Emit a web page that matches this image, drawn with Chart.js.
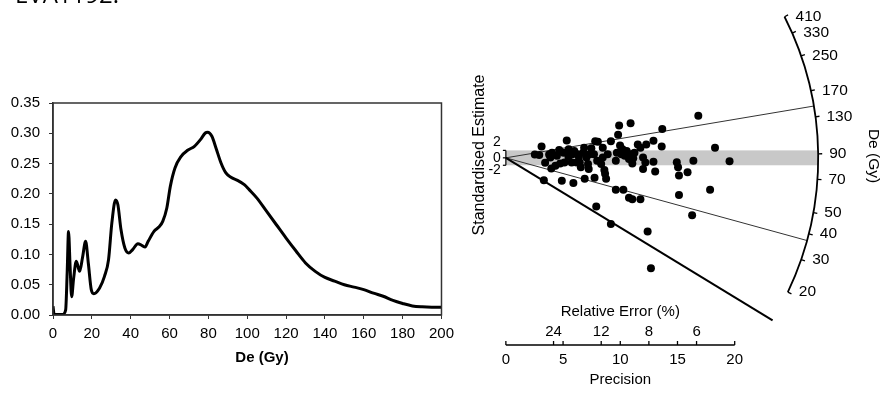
<!DOCTYPE html>
<html><head><meta charset="utf-8">
<script src="https://cdn.jsdelivr.net/npm/chart.js@4.4.1/dist/chart.umd.min.js"></script>
<style>
html,body{margin:0;padding:0;background:#fff;overflow:hidden;}
#wrap{position:relative;width:886px;height:396px;background:#fff;}
#c1{position:absolute;left:0;top:0;}
#c2{position:absolute;left:440px;top:0;}
</style></head><body>
<div id="wrap">
<canvas id="c1" width="460" height="396"></canvas>
<canvas id="c2" width="446" height="396"></canvas>
</div>
<script>
// ---------- data: kernel density (left) ----------
const sampleName = "EVA1192.";
const kdeTitle = "De (Gy)";
const deGy = [0,0.6,5,6.5,7.3,8,8.8,9.6,10.6,12,13.7,15.2,16.8,18.2,19.7,21,24,26.5,28.6,30.3,32.2,33.4,35,37,39,41,43.7,45.9,47.4,49,52,54.5,56.5,58.6,60.4,62.8,66,69.3,72.8,75.9,78.4,79.6,81.8,83.9,86.5,89,91.6,95,98.5,101,105,110,115,120,125,130,135,140,145,150,155,160,165,170,175,180,185,190,195,200];
const density = [0.0143,0.001,0.001,0.008,0.07,0.138,0.08,0.030,0.06,0.0886,0.0721,0.095,0.1216,0.085,0.0418,0.0352,0.0446,0.0638,0.0914,0.152,0.190,0.182,0.141,0.1106,0.1024,0.108,0.1178,0.1145,0.1123,0.1216,0.138,0.1453,0.1547,0.1767,0.2124,0.2427,0.262,0.2719,0.2785,0.2895,0.3005,0.3016,0.295,0.2757,0.251,0.2345,0.2273,0.2223,0.2152,0.207,0.193,0.171,0.149,0.127,0.106,0.086,0.072,0.062,0.056,0.050,0.046,0.042,0.036,0.031,0.024,0.019,0.015,0.0135,0.013,0.013];

// ---------- data: radial plot (right) ----------
const precision = [2.53,2.92,3.12,3.43,3.78,3.97,4.03,4.33,4.46,4.66,5.04,5.12,5.32,5.47,5.49,5.81,5.98,6.18,6.38,6.55,6.76,6.84,7.04,7.18,7.47,7.70,7.81,8.04,7.98,8.33,8.47,8.47,8.61,8.67,9.18,9.90,9.81,9.98,9.70,10.10,10.39,10.56,10.90,10.90,11.13,11.05,11.53,11.76,11.99,12.19,12.27,12.90,12.90,13.62,13.67,11.99,13.05,14.94,15.05,15.13,15.88,16.39,16.82,18.28,19.55,3.32,4.89,5.90,6.89,7.75,8.76,9.61,10.27,10.76,11.05,11.76,15.13,17.85,7.90,16.28,9.18,12.39,12.68,4.75,5.75,6.46,7.32,6.27,3.89,8.90,9.61,10.76,10.19,11.24,7.24];
const stdEstimate = [0.92,0.79,3.03,-1.32,0.92,-2.89,1.39,-2.11,0.53,2.11,1.39,-1.24,4.66,0.26,2.29,0.97,1.84,-1.24,0.26,-2.55,1.39,2.71,0.08,-1.66,2.55,0.97,4.47,4.29,-0.79,-1.66,2.71,0.08,-3.24,-4.29,4.47,8.68,6.18,3.29,1.39,0.97,0.53,1.84,9.29,0.97,-0.08,-1.50,3.61,2.71,0.08,-1.24,3.61,4.61,-1.05,3.03,7.76,-2.97,-3.68,-1.18,-2.55,-4.74,-3.87,-0.79,11.32,2.71,-0.92,-6.05,-6.18,-6.76,-5.61,-5.34,-5.61,-8.55,-8.55,-10.71,-11.13,-11.13,-10.0,-8.55,-13.08,-15.45,-17.76,-19.82,-29.66,-1.50,-1.24,-1.24,0.97,0.97,0.08,0.97,-0.79,-0.34,2.29,1.39,-2.97];
const centralDe = 86.5;             // Gy, centre of grey ±2 band
const componentDe = [145, 37.2, 13.3]; // Gy, radial lines
const arcTicks = [20,30,40,50,70,90,130,170,250,330,410];
const precisionTicks = [0,5,10,15,20];
const relErrTicks = [24,12,8,6];
const stdTicks = [2,0,-2];
const stdTickText = ["2","0","-2"];

// ---------- styles / layout ----------
const componentLineWidth = [1, 1, 2];
const FONT = '"Liberation Sans", Arial, sans-serif';
Chart.defaults.font.family = FONT;
Chart.defaults.color = '#000';

const PX_PER_PREC = 11.65, PX_PER_STD = 3.8;
const ORIGIN_X = 63, ORIGIN_Y = 157; // within right canvas
const ARC_RADIUS = 27.3;            // in precision units
const PREC_AXIS_Y = 345;

// ---------- left chart ----------
const leftDecor = {
  id:'leftDecor',
  afterDraw(chart){
    const {ctx, chartArea:a} = chart;
    ctx.save();
    ctx.strokeStyle='#333'; ctx.lineWidth=1.5;
    ctx.strokeRect(a.left, a.top, a.right-a.left, a.bottom-a.top);
    ctx.fillStyle='#000';
    ctx.font='bold 15px '+FONT;
    ctx.textAlign='center'; ctx.textBaseline='middle';
    ctx.fillText(kdeTitle, 262, 358);
    ctx.font='24px "Open Sans", sans-serif';
    ctx.textAlign='left'; ctx.textBaseline='alphabetic';
    ctx.fillText(sampleName, 15, 3);
    ctx.restore();
  }
};
const axisCommon = {
  grid:{drawOnChartArea:false, drawTicks:true, tickLength:4, color:'#333', lineWidth:1},
  border:{display:true, color:'#333', width:1.5}
};
new Chart(document.getElementById('c1'), {
  type:'line',
  data:{datasets:[{data:deGy.map((x,i)=>({x, y:density[i]})), borderColor:'#000', borderWidth:3,
    pointRadius:0, cubicInterpolationMode:'monotone', fill:false}]},
  options:{
    responsive:false, animation:false, devicePixelRatio:1,
    layout:{padding:{top:103,right:17,left:0,bottom:0}},
    plugins:{legend:{display:false}, tooltip:{enabled:false}},
    scales:{
      x:{type:'linear', min:0, max:200, bounds:'data',
        afterFit(s){s.height=81;},
        ticks:{stepSize:20, color:'#000', font:{size:15}, padding:6, maxRotation:0, autoSkip:false},
        ...axisCommon},
      y:{type:'linear', min:0, max:0.35, bounds:'data',
        afterFit(s){s.width=53;},
        ticks:{stepSize:0.05, color:'#000', font:{size:15}, padding:9, callback:v=>v.toFixed(2)},
        ...axisCommon}
    }
  },
  plugins:[leftDecor]
});

// ---------- right chart (radial plot) ----------
const radialDecor = {
  id:'radialDecor',
  beforeDatasetsDraw(chart){
    const {ctx} = chart; const xs=chart.scales.x, ys=chart.scales.y;
    const ox=xs.getPixelForValue(0), oy=ys.getPixelForValue(0);
    const pp = xs.getPixelForValue(1)-ox;
    const ps = oy-ys.getPixelForValue(1);
    const R = ARC_RADIUS*pp;
    const dir = D => { const s=Math.log(D/centralDe); const dx=pp, dy=-ps*s; const n=Math.hypot(dx,dy); return [dx/n, dy/n]; };
    ctx.save();
    // band
    ctx.fillStyle='#c8c8c8';
    const yT=ys.getPixelForValue(2), yB=ys.getPixelForValue(-2);
    ctx.fillRect(ox, yT, R, yB-yT);
    // component lines
    componentDe.forEach((D,i)=>{
      const [ux,uy]=dir(D);
      ctx.beginPath(); ctx.moveTo(ox,oy); ctx.lineTo(ox+R*ux, oy+R*uy);
      ctx.lineWidth=componentLineWidth[i]; ctx.strokeStyle=componentLineWidth[i]>1?'#000':'#333'; ctx.stroke();
    });
    // arc
    ctx.strokeStyle='#000';
    const ang = D => { const [ux,uy]=dir(D); return Math.atan2(uy,ux); };
    const lo=Math.min(...arcTicks), hi=Math.max(...arcTicks);
    ctx.beginPath(); ctx.arc(ox,oy,R,ang(hi),ang(lo)); ctx.lineWidth=1.8; ctx.stroke();
    ctx.font='15.5px '+FONT; ctx.fillStyle='#000'; ctx.textAlign='left'; ctx.textBaseline='middle';
    arcTicks.forEach(D=>{
      const [ux,uy]=dir(D); const x1=ox+R*ux, y1=oy+R*uy;
      ctx.beginPath(); ctx.moveTo(x1,y1); ctx.lineTo(x1+4*ux, y1+4*uy); ctx.lineWidth=1.3; ctx.stroke();
      ctx.fillText(String(D), x1+11, y1);
    });
    // precision axis
    const ay=PREC_AXIS_Y;
    ctx.font='15px '+FONT;
    ctx.lineWidth=1.3;
    ctx.beginPath(); ctx.moveTo(xs.getPixelForValue(precisionTicks[0]),ay);
    ctx.lineTo(xs.getPixelForValue(precisionTicks[precisionTicks.length-1]),ay); ctx.stroke();
    ctx.textAlign='center';
    precisionTicks.forEach(p=>{
      const x=xs.getPixelForValue(p);
      ctx.beginPath(); ctx.moveTo(x,ay); ctx.lineTo(x,ay-4); ctx.stroke();
      ctx.fillText(String(p), x, ay+15);
    });
    relErrTicks.forEach(r=>{
      const x=xs.getPixelForValue(100/r);
      ctx.beginPath(); ctx.moveTo(x,ay); ctx.lineTo(x,ay-4); ctx.stroke();
      ctx.fillText(String(r), x, ay-13);
    });
    const xm=xs.getPixelForValue(10);
    ctx.fillText('Relative Error (%)', xm, ay-33);
    ctx.fillText('Precision', xm, ay+35);
    // standardised estimate bracket
    ctx.lineWidth=1.2;
    ctx.beginPath(); ctx.moveTo(ox, ys.getPixelForValue(2)); ctx.lineTo(ox, ys.getPixelForValue(-2)); ctx.stroke();
    ctx.font='14px '+FONT; ctx.textAlign='right';
    const off=[-8,0,5];
    stdTicks.forEach((t,i)=>{
      const y=ys.getPixelForValue(t);
      ctx.beginPath(); ctx.moveTo(ox,y); ctx.lineTo(ox-3,y); ctx.stroke();
      ctx.fillText(stdTickText[i], ox-5, y+off[i]);
    });
    // axis titles
    ctx.font='16px '+FONT; ctx.textAlign='center';
    ctx.save(); ctx.translate(40, 155); ctx.rotate(-Math.PI/2); ctx.fillText('Standardised Estimate',0,0); ctx.restore();
    ctx.font='15.5px '+FONT;
    ctx.save(); ctx.translate(433, 156); ctx.rotate(Math.PI/2); ctx.fillText('De (Gy)',0,0); ctx.restore();
    ctx.restore();
  }
};
const W2=446, H2=396;
new Chart(document.getElementById('c2'), {
  type:'scatter',
  data:{datasets:[{data:precision.map((x,i)=>({x, y:stdEstimate[i]})), backgroundColor:'#000', borderWidth:0, pointRadius:4}]},
  options:{
    responsive:false, animation:false, devicePixelRatio:1,
    layout:{padding:0},
    plugins:{legend:{display:false}, tooltip:{enabled:false}},
    scales:{
      x:{type:'linear', display:false, bounds:'data', min:-ORIGIN_X/PX_PER_PREC, max:(W2-ORIGIN_X)/PX_PER_PREC},
      y:{type:'linear', display:false, bounds:'data', min:-(H2-ORIGIN_Y)/PX_PER_STD, max:ORIGIN_Y/PX_PER_STD}
    }
  },
  plugins:[radialDecor]
});
</script>
</body></html>
